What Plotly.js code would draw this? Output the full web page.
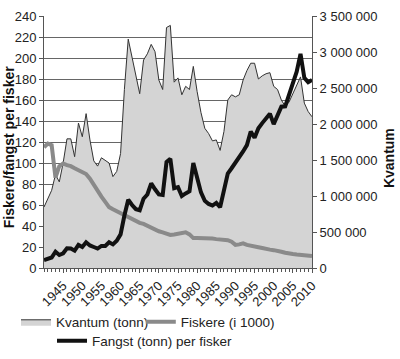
<!DOCTYPE html>
<html><head><meta charset="utf-8">
<script src="https://cdn.plot.ly/plotly-3.0.1.min.js"></script>
<style>html,body{margin:0;padding:0;background:#fff}#chart{width:400px;height:359px}</style>
</head><body><div id="chart"></div>
<script>
const years = [1940,1941,1942,1943,1944,1945,1946,1947,1948,1949,
1950,1951,1952,1953,1954,1955,1956,1957,1958,1959,
1960,1961,1962,1963,1964,1965,1966,1967,1968,1969,
1970,1971,1972,1973,1974,1975,1976,1977,1978,1979,
1980,1981,1982,1983,1984,1985,1986,1987,1988,1989,
1990,1991,1992,1993,1994,1995,1996,1997,1998,1999,
2000,2001,2002,2003,2004,2005,2006,2007,2008,2009,2010];

// Kvantum (tonn) - right axis
const kvantum = [846000,963000,1079000,1298000,1196000,1458000,1794000,1794000,1546000,2013000,
1823000,2144000,1779000,1488000,1415000,1531000,1488000,1458000,1269000,1342000,
1590000,2479000,3179000,2917000,2669000,2421000,2888000,2975000,3106000,3004000,
2610000,2479000,3340000,3369000,2581000,2640000,2406000,2523000,2479000,2800000,
2450000,2158000,1940000,1867000,1765000,1779000,1633000,1896000,2333000,2406000,
2377000,2406000,2610000,2742000,2844000,2844000,2625000,2669000,2698000,2713000,
2523000,2479000,2333000,2246000,2304000,2421000,2538000,2654000,2290000,2173000,2100000];

// Fiskere (i 1000) - left axis
const fiskere = [115,118.5,117,86,97,99.5,98,97,95,93,
91.5,89.5,85,79,74,68,63,58,56,54,
52,50,48,46,44.5,43,42,40,38.5,37,
35,34,33,31.5,32,32.5,33,34,32,28.5,
28.5,28.5,28.5,28.5,28,27.5,27,26.5,26.5,25,
22,22.5,23.5,22,21,20.3,19.7,19,18,17.5,
17,16.5,15.5,14.5,13.5,13.3,12.8,12.4,12,11.6,11.4];

// Fangst (tonn) per fisker - left axis
const fangst = [7.6,8.5,10,15.5,12.4,14,18.7,18.5,16.5,22,
20,24.5,21.5,20,18.5,21,21,24.5,22.5,26,
32,50,65,60,56,55,66,70,80.6,75,
70,69.5,101,104,76,77,68.6,71,73,100,
85,72,64,61,59.5,62,57.8,72,90,95,
100,106,111,117,130,124,133,138,143,147,
137,146,153.6,154,165,178,187,204,181,177,179];

const seriesNames = ['Kvantum (tonn)','Fiskere (i 1000)','Fangst (tonn) per fisker'];
const axisTitles = ['Fiskere/fangst per fisker','Kvantum'];
const xTickVals = [1945,1950,1955,1960,1965,1970,1975,1980,1985,1990,1995,2000,2005,2010];
const xTickText = ['1945','1950','1955','1960','1965','1970','1975','1980','1985','1990','1995','2000','2005','2010'];
const rightTickVals = [0,500000,1000000,1500000,2000000,2500000,3000000,3500000];
const rightTickText = ['0','500 000','1 000 000','1 500 000','2 000 000','2 500 000','3 000 000','3 500 000'];

const FONT = '"Liberation Sans", Arial, Helvetica, sans-serif';
const AX = '#555555';

const traces = [
  {x: years, y: kvantum, name: seriesNames[0], type: 'scatter', mode: 'lines',
   fill: 'tozeroy', fillcolor: '#d4d4d4', line: {color: '#333333', width: 1},
   yaxis: 'y', legend: 'legend'},
  {x: years, y: fiskere, name: seriesNames[1], type: 'scatter', mode: 'lines',
   line: {color: '#8a8a8a', width: 4}, yaxis: 'y2', legend: 'legend2'},
  {x: years, y: fangst, name: seriesNames[2], type: 'scatter', mode: 'lines',
   line: {color: '#111111', width: 4}, yaxis: 'y2', legend: 'legend3'}
];

const legendBase = {orientation: 'h', xref: 'container', yref: 'container', xanchor: 'left',
  yanchor: 'middle', font: {size: 13.5, color: '#222'}, bgcolor: 'rgba(0,0,0,0)'};

const layout = {
  width: 400, height: 359,
  margin: {l: 44, r: 88, t: 16, b: 91},
  paper_bgcolor: '#ffffff', plot_bgcolor: '#ffffff',
  font: {family: FONT, size: 13, color: '#222222'},
  showlegend: true,
  xaxis: {
    range: [1940, 2010], tickmode: 'array', tickvals: xTickVals, ticktext: xTickText,
    tickangle: -45, ticks: 'outside', ticklen: 4, tickcolor: AX, automargin: false,
    showline: true, linecolor: AX, linewidth: 1, showgrid: false, zeroline: false,
    minor: {tickmode: 'linear', tick0: 1940, dtick: 1, ticks: 'outside', ticklen: 3, tickcolor: AX, showgrid: false},
    tickfont: {size: 13, color: '#222'}
  },
  yaxis: {
    side: 'right', range: [0, 3500000], tickmode: 'array', automargin: false,
    tickvals: rightTickVals, ticktext: rightTickText,
    showgrid: false, zeroline: false, showline: true, linecolor: AX,
    ticks: 'outside', ticklen: 4, tickcolor: AX,
    tickfont: {size: 13, color: '#222'}
  },
  yaxis2: {
    overlaying: 'y', side: 'left', range: [0, 240], dtick: 20, automargin: false,
    showgrid: true, gridcolor: '#666666', gridwidth: 1,
    showline: true, linecolor: AX, zeroline: false,
    ticks: 'outside', ticklen: 4, tickcolor: AX,
    tickfont: {size: 13, color: '#222'}
  },
  annotations: [
    {text: '<b>' + axisTitles[0] + '</b>', xref: 'paper', yref: 'paper', x: -0.13, y: 0.48,
     xanchor: 'center', yanchor: 'middle', textangle: -90, showarrow: false,
     font: {size: 14, color: '#111'}},
    {text: '<b>' + axisTitles[1] + '</b>', xref: 'paper', yref: 'paper', x: 1.29, y: 0.435,
     xanchor: 'center', yanchor: 'middle', textangle: -90, showarrow: false,
     font: {size: 14, color: '#111'}}
  ],
  legend: Object.assign({}, legendBase, {x: 0.04, y: 0.103}),
  legend2: Object.assign({}, legendBase, {x: 0.352, y: 0.103}),
  legend3: Object.assign({}, legendBase, {x: 0.13, y: 0.05})
};

Plotly.newPlot('chart', traces, layout, {staticPlot: true, displayModeBar: false});
</script>
</body></html>
